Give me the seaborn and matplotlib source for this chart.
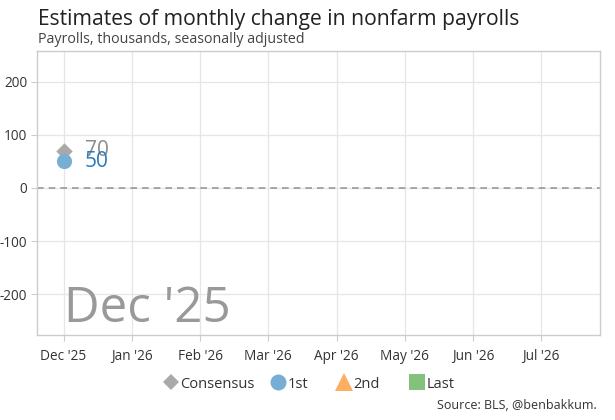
import numpy as np
import pandas as pd
import matplotlib.pyplot as plt
import seaborn as sns

# data
months = ["Dec '25", "Jan '26", "Feb '26", "Mar '26", "Apr '26", "May '26", "Jun '26", "Jul '26"]
consensus = [70, np.nan, np.nan, np.nan, np.nan, np.nan, np.nan, np.nan]
first = [50, np.nan, np.nan, np.nan, np.nan, np.nan, np.nan, np.nan]
second = [np.nan] * 8
last = [np.nan] * 8
current_label = "Dec '25"

sns.set_theme(style="whitegrid")
plt.rcParams['font.family'] = ['Open Sans', 'DejaVu Sans']
plt.rcParams['axes.unicode_minus'] = False

df = pd.DataFrame({'pos': np.arange(len(months)), 'month': months,
                   'Consensus': consensus, '1st': first, '2nd': second, 'Last': last})
long = df.melt(id_vars=['pos', 'month'], var_name='estimate', value_name='value')

colors = {'Consensus': '#a9a9a9', '1st': '#78aed3', '2nd': '#fdae61', 'Last': '#82c27d'}
markers = {'Consensus': 'D', '1st': 'o', '2nd': '^', 'Last': 's'}
sizes = {'Consensus': 70, '1st': 120, '2nd': 130, 'Last': 100}

fig = plt.figure(figsize=(6.15, 4.2), dpi=100)
ax = fig.add_axes([0.060, 0.2024, 0.9156, 0.6762])

ax.axhline(0, color='#999999', lw=1.2, ls=(0, (4, 3)), zorder=1)

for name in ['Consensus', '1st', '2nd', 'Last']:
    sub = long[long['estimate'] == name].dropna()
    if len(sub):
        sns.scatterplot(data=sub, x='pos', y='value', ax=ax, color=colors[name],
                        marker=markers[name], s=sizes[name], linewidth=0, zorder=3,
                        legend=False)

# value labels
for p, v in zip(df['pos'], consensus):
    if not np.isnan(v):
        ax.text(p + 0.31, v, f"{v:.0f}", color='#8c8c8c', fontsize=15, va='center', ha='left', zorder=4)
for p, v in zip(df['pos'], first):
    if not np.isnan(v):
        ax.text(p + 0.31, v, f"{v:.0f}", color='#2b7bba', fontsize=15, va='center', ha='left', zorder=4)

ax.text(0, -253, current_label, color='#999999', fontsize=35.5, ha='left', va='baseline', zorder=2)

ax.set_xlim(-0.39, 7.86)
ax.set_ylim(-277, 258)
ax.set_xticks(df['pos'])
ax.set_xticklabels(months)
ax.set_yticks([-200, -100, 0, 100, 200])
ax.set_xlabel('')
ax.set_ylabel('')
ax.grid(True, color='#e6e6e6', lw=0.9)
ax.tick_params(axis='both', labelsize=9.8, colors='#333333', length=4, width=0.8,
               color='#cccccc', pad=3, bottom=True, left=True)
ax.tick_params(axis='x', pad=6)
for s in ax.spines.values():
    s.set_color('#cccccc')
    s.set_linewidth(1)

# legend, one entry at a time so the spacing follows the reference
legend_x = {'Consensus': 162, '1st': 269, '2nd': 335, 'Last': 408}
msize = {'Consensus': 8.5, '1st': 11.5, '2nd': 13, 'Last': 11}
for n in colors:
    h = plt.Line2D([], [], ls='', marker=markers[n], color=colors[n],
                   markersize=msize[n], markeredgewidth=0)
    fig.legend([h], [n], loc='center left', bbox_to_anchor=(legend_x[n] / 615, 1 - 384 / 420),
               frameon=False, fontsize=10.5, handletextpad=0.05, handlelength=1.2,
               borderpad=0, borderaxespad=0, labelcolor='#333333')

fig.text(38 / 615, 1 - 25 / 420, 'Estimates of monthly change in nonfarm payrolls',
         fontsize=15.2, color='#222222', ha='left', va='baseline')
fig.text(38 / 615, 1 - 43 / 420, 'Payrolls, thousands, seasonally adjusted',
         fontsize=10.3, color='#444444', ha='left', va='baseline')
fig.text(597 / 615, 1 - 409 / 420, 'Source: BLS, @benbakkum.',
         fontsize=9.0, color='#333333', ha='right', va='baseline')

fig.savefig('out.png', dpi=100)
